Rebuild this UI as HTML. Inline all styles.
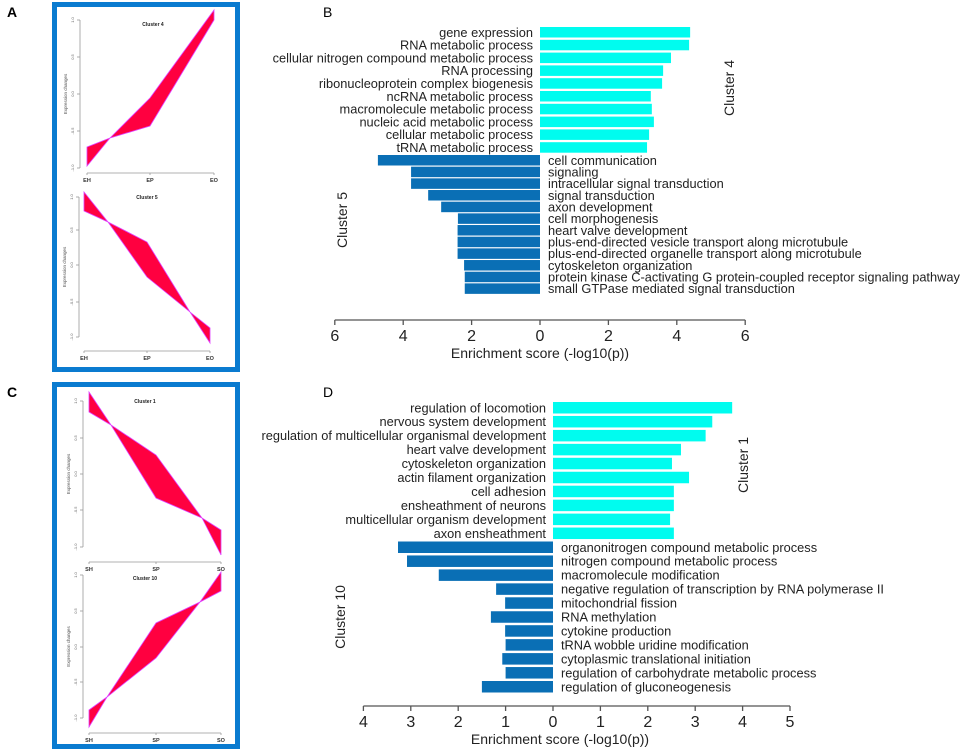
<!DOCTYPE html>
<html><head><meta charset="utf-8"><style>
html,body{margin:0;padding:0;background:#fff;}
svg{display:block;font-family:"Liberation Sans",Arial,sans-serif;}
</style></head><body>
<svg id="fig" width="969" height="755" viewBox="0 0 969 755">
<text x="7" y="17" font-size="14" font-weight="bold">A</text>
<text x="323" y="17" font-size="14">B</text>
<text x="7" y="397" font-size="14" font-weight="bold">C</text>
<text x="323" y="397" font-size="14">D</text>
<rect x="54.5" y="4.5" width="183" height="365" fill="none" stroke="#0a7bd0" stroke-width="5"/>
<rect x="54.5" y="384.5" width="183" height="362" fill="none" stroke="#0a7bd0" stroke-width="5"/>
<g id="profiles"></g>
<g id="bars"></g>
</svg>
<script>
// Panel B data
const bCyanCats = ["gene expression","RNA metabolic process","cellular nitrogen compound metabolic process","RNA processing","ribonucleoprotein complex biogenesis","ncRNA metabolic process","macromolecule metabolic process","nucleic acid metabolic process","cellular metabolic process","tRNA metabolic process"];
const bCyanVals = [4.39,4.36,3.83,3.6,3.57,3.24,3.27,3.33,3.19,3.13];
const bBlueCats = ["cell communication","signaling","intracellular signal transduction","signal transduction","axon development","cell morphogenesis","heart valve development","plus-end-directed vesicle transport along microtubule","plus-end-directed organelle transport along microtubule","cytoskeleton organization","protein kinase C-activating G protein-coupled receptor signaling pathway","small GTPase mediated signal transduction"];
const bBlueVals = [4.74,3.77,3.77,3.27,2.89,2.4,2.41,2.41,2.41,2.22,2.2,2.2];
const bTicks = [-6,-4,-2,0,2,4,6];
// Panel D data
const dCyanCats = ["regulation of locomotion","nervous system development","regulation of multicellular organismal development","heart valve development","cytoskeleton organization","actin filament organization","cell adhesion","ensheathment of neurons","multicellular organism development","axon ensheathment"];
const dCyanVals = [3.78,3.36,3.22,2.7,2.51,2.87,2.55,2.55,2.47,2.55];
const dBlueCats = ["organonitrogen compound metabolic process","nitrogen compound metabolic process","macromolecule modification","negative regulation of transcription by RNA polymerase II","mitochondrial fission","RNA methylation","cytokine production","tRNA wobble uridine modification","cytoplasmic translational initiation","regulation of carbohydrate metabolic process","regulation of gluconeogenesis"];
const dBlueVals = [3.27,3.08,2.41,1.2,1.01,1.31,1.01,1.0,1.07,1.0,1.5];
const dTicks = [-4,-3,-2,-1,0,1,2,3,4,5];

const NS="http://www.w3.org/2000/svg";
function mk(tag,attrs,parent,txt){const e=document.createElementNS(NS,tag);for(const k in attrs)e.setAttribute(k,attrs[k]);if(txt!==undefined)e.textContent=txt;parent.appendChild(e);return e;}
const barsG=document.getElementById('bars');

function panel(p){
  const x=v=>p.zero+v*p.unit;
  const g=mk('g',{},barsG);
  
  
  p.cyanCats.forEach((c,i)=>{
    const top=p.cyanTop+i*p.cyanPitch;
    const r=mk('rect',{x:x(0),y:top,width:x(p.cyanVals[i])-x(0),height:p.barH,fill:'#00fcef'},g);
    
    
    const t=mk('text',{x:x(0)-7,y:top+p.barH/2+4.5,'font-size':12.8,'text-anchor':'end',fill:'#222'},g,c);
    
    
  });
  p.blueCats.forEach((c,i)=>{
    const top=p.blueTop+i*p.bluePitch;
    const r=mk('rect',{x:x(-p.blueVals[i]),y:top,width:x(0)-x(-p.blueVals[i]),height:p.barH,fill:'#0a6fb5'},g);
    
    
    const t=mk('text',{x:x(0)+8,y:top+p.barH/2+4.5,'font-size':12.8,fill:'#222'},g,c);
    
    
  });
  const ax=mk('line',{x1:x(p.ticks[0]),x2:x(p.ticks[p.ticks.length-1]),y1:p.axisY,y2:p.axisY,stroke:'#555','stroke-width':1.3},g);
  
  
  p.ticks.forEach(v=>{
    mk('line',{x1:x(v),x2:x(v),y1:p.axisY,y2:p.axisY+5,stroke:'#555','stroke-width':1.3},g);
    const t=mk('text',{x:x(v),y:p.axisY+21,'font-size':16,'text-anchor':'middle',fill:'#222'},g,Math.abs(v));
    
    
  });
  const at=mk('text',{x:p.titleX,y:p.axisY+38,'font-size':14,'text-anchor':'middle',fill:'#222'},g,'Enrichment score (-log10(p))');
  
  
  const c1=mk('text',{x:0,y:0,'font-size':14,'text-anchor':'middle',fill:'#222',transform:`translate(${p.upLab[0]},${p.upLab[1]}) rotate(-90)`},g,p.upName);
  
  
  const c2=mk('text',{x:0,y:0,'font-size':14,'text-anchor':'middle',fill:'#222',transform:`translate(${p.downLab[0]},${p.downLab[1]}) rotate(-90)`},g,p.downName);
  
  
}
panel({name:'panel-b-chart',zero:540,unit:34.2,cyanCats:bCyanCats,cyanVals:bCyanVals,blueCats:bBlueCats,blueVals:bBlueVals,ticks:bTicks,
  cyanTop:27,cyanPitch:12.8,blueTop:155,bluePitch:11.67,barH:10.5,axisY:320,titleX:540,upLab:[734,88],downLab:[347,220],upName:'Cluster 4',downName:'Cluster 5'});
panel({name:'panel-d-chart',zero:553,unit:47.4,cyanCats:dCyanCats,cyanVals:dCyanVals,blueCats:dBlueCats,blueVals:dBlueVals,ticks:dTicks,
  cyanTop:402,cyanPitch:13.95,blueTop:541.5,bluePitch:13.95,barH:11.5,axisY:706,titleX:560,upLab:[748,465],downLab:[345,617],upName:'Cluster 1',downName:'Cluster 10'});

// Expression profile panels
const profG=document.getElementById('profiles');
function profile(o){
  const g=mk('g',{},profG);
  
  
  mk('line',{x1:o.ax,x2:o.ax,y1:o.ticks[0],y2:o.ticks[4],stroke:'#999','stroke-width':0.8},g);
  const labs=['1.0','0.5','0.0','-0.5','-1.0'];
  o.ticks.forEach((ty,i)=>{
    mk('line',{x1:o.ax-3,x2:o.ax,y1:ty,y2:ty,stroke:'#999','stroke-width':0.8},g);
    mk('text',{x:0,y:0,'font-size':4,'text-anchor':'middle',fill:'#666',transform:`translate(${o.ax-6},${ty}) rotate(-90)`},g,labs[i]);
  });
  mk('text',{x:0,y:0,'font-size':4.5,'text-anchor':'middle',fill:'#555',transform:`translate(${o.ax-13},${(o.ticks[0]+o.ticks[4])/2}) rotate(-90)`},g,'Expression changes');
  mk('line',{x1:o.xs[0],x2:o.xs[2],y1:o.xy,y2:o.xy,stroke:'#999','stroke-width':0.8},g);
  o.xs.forEach((xx,i)=>{
    mk('line',{x1:xx,x2:xx,y1:o.xy,y2:o.xy+2,stroke:'#999','stroke-width':0.8},g);
    mk('text',{x:xx,y:o.xy+9,'font-size':5.5,'font-weight':'bold','text-anchor':'middle',fill:'#333'},g,o.xl[i]);
  });
  mk('text',{x:o.tx,y:o.ty,'font-size':5,'font-weight':'bold','text-anchor':'middle',fill:'#222'},g,o.title);
  const poly=o.up.concat(o.low.slice().reverse()).map(p=>p.join(',')).join(' ');
  const r=mk('polygon',{points:poly,fill:'#ff0040',stroke:'#e040ff','stroke-width':0.8},g);
  
  
}
profile({name:'cluster-4-profile',ax:80,ticks:[20,57,94,131,168],xy:173,xs:[87,150,214],xl:['EH','EP','EO'],tx:153,ty:26,title:'Cluster 4',
  up:[[87,147],[110,138],[150,98],[214,10]],low:[[87,166],[110,138],[150,126],[214,20]]});
profile({name:'cluster-5-profile',ax:79,ticks:[197,230,265,302,337],xy:351,xs:[84,147,210],xl:['EH','EP','EO'],tx:147,ty:199,title:'Cluster 5',
  up:[[84,192],[108,222],[147,242],[190,312],[210,328]],low:[[84,211],[108,222],[147,277],[190,312],[210,343]]});
profile({name:'cluster-1-profile',ax:83,ticks:[401,438,474,510,547],xy:562,xs:[89,156,221],xl:['SH','SP','SO'],tx:145,ty:403,title:'Cluster 1',
  up:[[89,392],[111,425],[156,455],[202,518],[221,530]],low:[[89,412],[111,425],[156,498],[202,518],[221,555]]});
profile({name:'cluster-10-profile',ax:83,ticks:[575,611,647,682,718],xy:733,xs:[89,156,221],xl:['SH','SP','SO'],tx:145,ty:580,title:'Cluster 10',
  up:[[89,710],[107,697],[156,623],[200,602],[221,572]],low:[[89,727],[107,697],[156,658],[200,602],[221,591]]});
</script>
</body></html>
